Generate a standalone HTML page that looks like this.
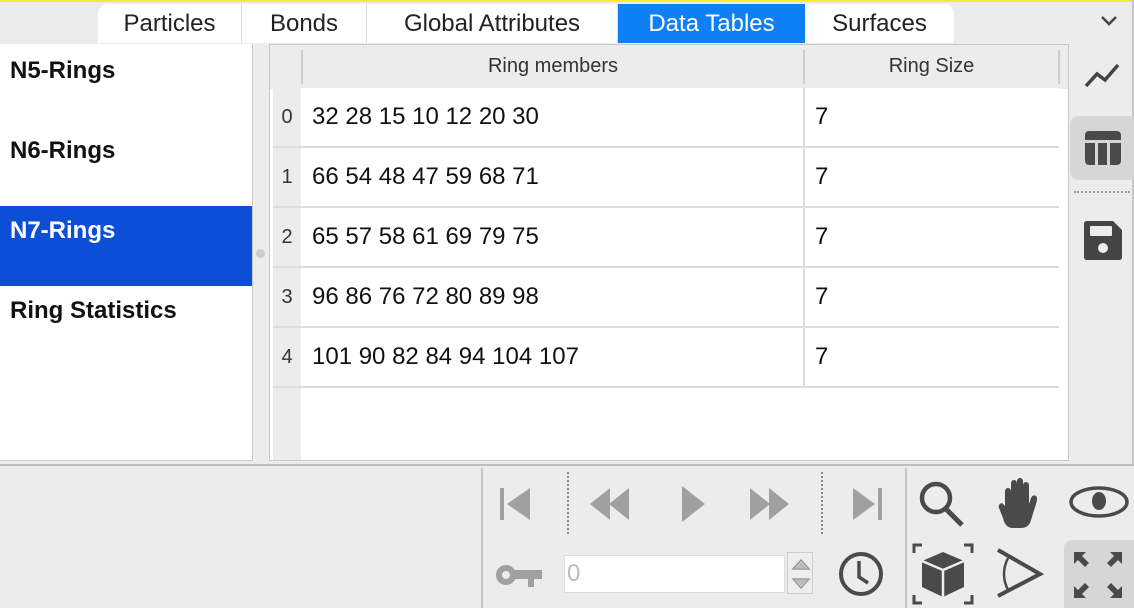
<!DOCTYPE html>
<html><head><meta charset="utf-8"><style>
*{box-sizing:border-box;margin:0;padding:0}
body{width:1134px;height:608px;overflow:hidden;background:#ececec;font-family:"Liberation Sans",Arial,sans-serif;position:relative}
.a{position:absolute}
.tab{position:absolute;top:4px;height:39px;font-size:24px;color:#222;display:flex;align-items:center;justify-content:center;border-right:1px solid #ddd;background:#fff}
.li{position:absolute;left:0;width:252px;height:80px;font-size:24px;font-weight:bold;padding:11px 10px;color:#111}
.row{position:absolute;left:273px;width:786px;height:60px;border-bottom:2px solid #ddd}
.rn{position:absolute;left:0;width:28px;height:58px;background:#ececec;font-size:20px;color:#333;text-align:center;line-height:58px}
.c1{position:absolute;left:28px;width:504px;height:58px;background:#fff;border-right:2px solid #ddd;font-size:24px;line-height:58px;padding-left:11px;color:#111}
.c2{position:absolute;left:532px;width:254px;height:58px;background:#fff;font-size:24px;line-height:58px;padding-left:10px;color:#111}
</style></head><body>
<div class="a" style="left:0;top:0;width:1134px;height:2px;background:#f3ee2a"></div>
<div class="a" style="left:98px;top:4px;width:856px;height:39px;background:#fff;border-radius:10px;overflow:hidden">
</div>
<div class="tab" style="left:98px;width:144px;border-radius:10px 0 0 0">Particles</div>
<div class="tab" style="left:242px;width:125px">Bonds</div>
<div class="tab" style="left:367px;width:251px">Global Attributes</div>
<div class="tab" style="left:618px;width:187px;background:#0f7ff5;color:#fff;border:none">Data Tables</div>
<div class="tab" style="left:805px;width:149px;border-radius:0 10px 0 0;border:none">Surfaces</div>
<svg class="a" style="left:1100px;top:14px" width="18" height="14"><path d="M2 3 L9 10 L16 3" stroke="#444" stroke-width="2.5" fill="none"/></svg>

<div class="a" style="left:0;top:44px;width:253px;height:417px;background:#fff;border-right:1px solid #ccc;border-bottom:1px solid #ccc">
</div>
<div class="li" style="top:46px">N5-Rings</div>
<div class="li" style="top:126px">N6-Rings</div>
<div class="li" style="top:206px;background:#0c4fd6;color:#fff">N7-Rings</div>
<div class="li" style="top:286px">Ring Statistics</div>
<div class="a" style="left:256px;top:249px;width:9px;height:9px;border-radius:50%;background:#ccc"></div>

<div class="a" style="left:269px;top:44px;width:800px;height:417px;background:#fff;border:1px solid #c8c8c8">
 <div class="a" style="left:0;top:0;width:798px;height:44px;background:#ececec"></div>
 <div class="a" style="left:3px;top:0;width:28px;height:415px;background:#ececec"></div>
</div>
<div class="a" style="left:301px;top:50px;width:504px;height:34px;border-left:2px solid #ccc;border-right:2px solid #ccc;font-size:20px;color:#333;text-align:center;line-height:32px">Ring members</div>
<div class="a" style="left:805px;top:50px;width:255px;height:34px;border-right:2px solid #ccc;font-size:20px;color:#333;text-align:center;line-height:32px">Ring Size</div>

<div id="rows"></div>

<div class="a" style="left:1132px;top:0;width:2px;height:465px;background:#c8c8c8"></div>
<svg class="a" style="left:1083px;top:60px" width="38" height="30"><path d="M3 26 L14 14 L22 20 L35 5" stroke="#444" stroke-width="3.5" fill="none"/></svg>
<div class="a" style="left:1070px;top:116px;width:64px;height:64px;background:#d6d6d6;border-radius:8px 0 0 8px"></div>
<svg class="a" style="left:1085px;top:131px" width="36" height="35"><rect x="0" y="0" width="36" height="34" rx="4" fill="#4a4a4a"/><rect x="0" y="9" width="36" height="3" fill="#d6d6d6"/><rect x="10" y="12" width="3" height="22" fill="#d6d6d6"/><rect x="22" y="12" width="3" height="22" fill="#d6d6d6"/></svg>
<div class="a" style="left:1074px;top:191px;width:56px;border-top:2px dotted #999"></div>
<svg class="a" style="left:1083px;top:221px" width="40" height="40"><path d="M4 0 H30 L39 9 V36 Q39 39 36 39 H4 Q1 39 1 36 V3 Q1 0 4 0Z" fill="#444"/><rect x="7" y="5" width="22" height="10" rx="1" fill="#ececec"/><circle cx="20" cy="27" r="5" fill="#ececec"/></svg>

<div class="a" style="left:0;top:464px;width:1134px;height:2px;background:#bdbdbd"></div>
<div class="a" style="left:481px;top:468px;width:2px;height:140px;background:#c4c4c4"></div>
<div class="a" style="left:905px;top:468px;width:2px;height:140px;background:#c4c4c4"></div>
<div class="a" style="left:567px;top:472px;height:62px;border-left:2px dotted #888"></div>
<div class="a" style="left:821px;top:472px;height:62px;border-left:2px dotted #888"></div>
<svg class="a" style="left:495px;top:480px" width="400" height="50">
 <rect x="5" y="8" width="4" height="32" fill="#a0a0a0"/><path d="M35 8 V40 L12 24Z" fill="#a0a0a0"/>
 <path d="M115 8 V40 L95 24Z M134 8 V40 L114 24Z" fill="#a0a0a0"/>
 <path d="M187 6 V42 L210 24Z" fill="#a0a0a0"/>
 <path d="M255 8 V40 L275 24Z M274 8 V40 L294 24Z" fill="#a0a0a0"/>
 <path d="M358 8 V40 L380 24Z" fill="#a0a0a0"/><rect x="383" y="8" width="4" height="32" fill="#a0a0a0"/>
</svg>
<svg class="a" style="left:494px;top:562px" width="48" height="28"><circle cx="12" cy="13" r="10" fill="#a0a0a0"/><circle cx="12" cy="13" r="4" fill="#ececec"/><rect x="20" y="8" width="28" height="9" fill="#a0a0a0"/><rect x="34" y="15" width="6" height="10" fill="#a0a0a0"/></svg>
<div class="a" style="left:564px;top:555px;width:221px;height:38px;background:#fff;border:1px solid #ddd;font-size:24px;color:#bbb;line-height:36px;padding-left:2px">0</div>
<div class="a" style="left:787px;top:552px;width:26px;height:42px;border:1px solid #ccc;background:#eee"></div>
<svg class="a" style="left:790px;top:555px" width="22" height="40"><path d="M3 14 L11 5 L19 14Z M3 24 L11 33 L19 24Z" fill="none" stroke="#999" stroke-width="1.5"/><path d="M5 13 L11 7 L17 13Z M5 25 L11 31 L17 25Z" fill="#bbb"/></svg>
<svg class="a" style="left:837px;top:551px" width="48" height="46"><circle cx="24" cy="23" r="20" fill="none" stroke="#4a4a4a" stroke-width="4"/><path d="M22 10 V26 L31 32" stroke="#4a4a4a" stroke-width="3.5" fill="none"/></svg>
<svg class="a" style="left:917px;top:480px" width="50" height="48"><circle cx="19" cy="18" r="14" fill="none" stroke="#4a4a4a" stroke-width="4.5"/><path d="M29 29 L45 45" stroke="#4a4a4a" stroke-width="5"/></svg>
<svg class="a" style="left:995px;top:478px" width="48" height="52"><path d="M10 28 V14 Q10 10 13 10 Q16 10 16 14 V24 V6 Q16 2 19 2 Q22 2 22 6 V22 V4 Q22 0 25 0 Q28 0 28 4 V22 V8 Q28 4 31 4 Q34 4 34 8 V26 L36 20 Q38 16 41 18 Q43 20 41 26 L36 42 Q34 50 26 50 H18 Q10 50 8 40 L4 30 Q3 26 7 25Z" fill="#4a4a4a"/></svg>
<svg class="a" style="left:1068px;top:482px" width="62" height="40"><ellipse cx="31" cy="20" rx="28" ry="14" fill="none" stroke="#4a4a4a" stroke-width="3.5"/><ellipse cx="31" cy="19" rx="7" ry="9" fill="#4a4a4a"/></svg>
<svg class="a" style="left:912px;top:543px" width="62" height="62"><path d="M2 10 V2 H10 M52 2 H60 V10 M2 52 V60 H10 M52 60 H60 V52" fill="none" stroke="#4a4a4a" stroke-width="3"/><path d="M31 9 L52 18 V44 L31 54 L10 44 V18Z" fill="#4a4a4a"/><path d="M10 18 L31 27 L52 18 M31 27 V54" stroke="#ececec" stroke-width="2.5" fill="none"/></svg>
<svg class="a" style="left:994px;top:548px" width="52" height="50"><path d="M4 2 L46 26 L4 48" fill="none" stroke="#4a4a4a" stroke-width="4"/><path d="M14 10 Q6 26 14 42" fill="none" stroke="#4a4a4a" stroke-width="2.5"/></svg>
<div class="a" style="left:1064px;top:540px;width:70px;height:68px;background:#d6d6d6;border-radius:8px 0 0 0"></div>
<svg class="a" style="left:1072px;top:550px" width="52" height="50"><g fill="#4a4a4a"><path d="M2 2 H14 L10 6 L17 13 L13 17 L6 10 L2 14Z"/><path d="M50 2 H38 L42 6 L35 13 L39 17 L46 10 L50 14Z"/><path d="M2 48 H14 L10 44 L17 37 L13 33 L6 40 L2 36Z"/><path d="M50 48 H38 L42 44 L35 37 L39 33 L46 40 L50 36Z"/></g></svg>

<script>
const rowIndex=[0,1,2,3,4];
const ringMembers=["32 28 15 10 12 20 30","66 54 48 47 59 68 71","65 57 58 61 69 79 75","96 86 76 72 80 89 98","101 90 82 84 94 104 107"];
const ringSize=[7,7,7,7,7];
const host=document.getElementById('rows');
rowIndex.forEach((r,i)=>{
 const row=document.createElement('div');
 row.className='row';
 row.style.top=(88+i*60)+'px';
 
 
 row.innerHTML='<div class="rn">'+r+'</div><div class="c1">'+ringMembers[i]+'</div><div class="c2">'+ringSize[i]+'</div>';
 host.appendChild(row);
});
</script>
</body></html>
